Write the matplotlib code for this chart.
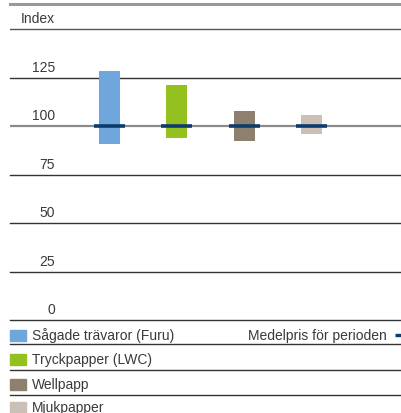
import matplotlib
matplotlib.use("Agg")
import matplotlib.pyplot as plt
from matplotlib.patches import Rectangle
from matplotlib.lines import Line2D

plt.rcParams['font.family'] = ['Liberation Sans', 'DejaVu Sans']

# Price range per product over the period (index), mean = 100
products = ["Sågade trävaror (Furu)", "Tryckpapper (LWC)", "Wellpapp", "Mjukpapper"]
low = [91, 94, 92.5, 96]
high = [128.5, 121, 108, 106]
mean = [100, 100, 100, 100]
colors = ["#6fa7dc", "#94c11f", "#8d806f", "#cbc0b6"]
mean_color = "#0c3b6e"
mean_label = "Medelpris för perioden"
yticks = [0, 25, 50, 75, 100, 125]
ylabel = "Index"

W, H = 401, 414
fig = plt.figure(figsize=(W / 100, H / 100), dpi=100)

def fx(px):
    return px / W

def fy(py):
    return 1 - py / H

# Axes spans from the top rule (y=5px) down to the zero level (y=321px)
ax_top, ax_bot = 5, 321.2
ax_left, ax_right = 10, 401
ax = fig.add_axes([fx(ax_left), fy(ax_bot), fx(ax_right) - fx(ax_left), (ax_bot - ax_top) / H])
ymax = (ax_bot - ax_top) / 1.94
ax.set_ylim(0, ymax)
x0, step = 109.5, 67.3
ax.set_xlim((ax_left - x0) / step, (ax_right - x0) / step)
ax.axis("off")

text_color = "#3a3a3a"

# Horizontal rules
ax.axhline(ymax, color="#999999", lw=2.2, zorder=1, clip_on=False)
ax.axhline(150, color="#555555", lw=1.0, zorder=1)
for t in yticks:
    if t == 100:
        ax.axhline(t, color="#8a8a8a", lw=1.6, zorder=1)
    else:
        ax.axhline(t, color="#333333", lw=1.0, zorder=1, clip_on=False)

# Tick labels sit above their rules, right aligned
for t in yticks:
    ax.annotate(str(t), xy=(45 / 391, t), xycoords=("axes fraction", "data"),
                xytext=(0, 3), textcoords="offset points",
                ha="right", va="bottom", fontsize=10, color=text_color)
ax.annotate(ylabel, xy=(45 / 391, 150), xycoords=("axes fraction", "data"),
            xytext=(0, 3), textcoords="offset points",
            ha="right", va="bottom", fontsize=10, color=text_color)

bar_w = 21 / step
mark_w = 31 / step
for i, (lo, hi, m, c) in enumerate(zip(low, high, mean, colors)):
    ax.bar(i, hi - lo, bottom=lo, width=bar_w, color=c, zorder=2)
    ax.plot([i - mark_w / 2, i + mark_w / 2], [m, m], color=mean_color,
            lw=2.6, solid_capstyle="butt", zorder=3)

# Legend rows
row_lines = [320, 345, 370.5, 396]
for y in row_lines[1:]:
    fig.add_artist(Line2D([fx(10), fx(401)], [fy(y), fy(y)], color="#333333", lw=1.0))
row_centers = [336, 360.5, 385, 408]
for name, c, yc in zip(products, colors, row_centers):
    fig.add_artist(Rectangle((fx(10), fy(yc + 5.5)), fx(16.5), 11 / H,
                             color=c, transform=fig.transFigure))
    fig.text(fx(32), fy(yc), name, ha="left", va="center", fontsize=10, color=text_color)

fig.text(fx(387), fy(row_centers[0]), mean_label, ha="right", va="center",
         fontsize=10, color=text_color)
fig.add_artist(Line2D([fx(395), fx(401)], [fy(row_centers[0]), fy(row_centers[0])],
                      color=mean_color, lw=2.4, solid_capstyle="butt"))

fig.savefig("out.png", dpi=100)
